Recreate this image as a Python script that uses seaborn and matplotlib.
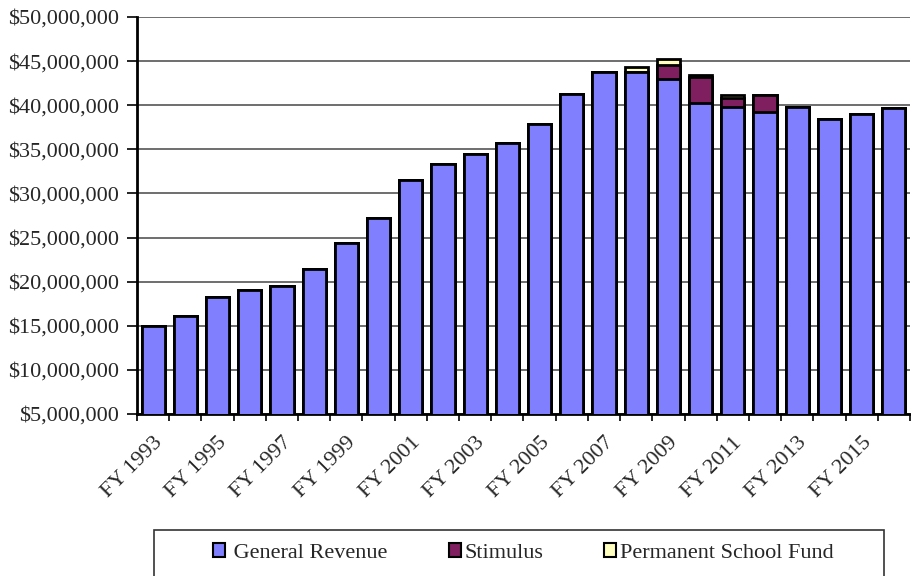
import matplotlib
matplotlib.use("Agg")
import matplotlib.pyplot as plt
import matplotlib.ticker as mticker
from matplotlib.patches import Rectangle, Patch
import seaborn as sns
import pandas as pd
import numpy as np

years = ["FY %d" % y for y in range(1993, 2017)]
general_revenue = [15.0, 16.1, 18.3, 19.05, 19.55, 21.45, 24.35, 27.25, 31.5, 33.3, 34.45,
                   35.7, 37.85, 41.25, 43.8, 43.8, 43.0, 40.2, 39.85, 39.2, 39.8, 38.45, 39.05, 39.65]
stimulus = [0, 0, 0, 0, 0, 0, 0, 0, 0, 0, 0, 0, 0, 0, 0, 0, 1.55, 2.95, 0.95, 2.0, 0, 0, 0, 0]
psf = [0, 0, 0, 0, 0, 0, 0, 0, 0, 0, 0, 0, 0, 0, 0, 0.55, 0.65, 0.25, 0.35, 0, 0, 0, 0, 0]

gr = np.array(general_revenue) * 1e6
st = np.array(stimulus) * 1e6
ps = np.array(psf) * 1e6
df = pd.DataFrame({"year": years, "gr": gr, "gs": gr + st, "tot": gr + st + ps})

sns.set_style("white")
plt.rcParams["font.family"] = ["Liberation Serif", "DejaVu Serif"]

fig = plt.figure(figsize=(9.12, 5.76), dpi=100)
ax = fig.add_axes([137/912, 1 - 414/576, (910 - 137)/912, (414 - 17)/576])

c_gr, c_st, c_ps = "#8080FF", "#7F1F5F", "#FFFFC0"
kw = dict(width=0.72, edgecolor="black", linewidth=2.0, ax=ax, zorder=3)
sns.barplot(data=df, x="year", y="tot", color=c_ps, saturation=1, **kw)
sns.barplot(data=df, x="year", y="gs", color=c_st, saturation=1, **kw)
sns.barplot(data=df, x="year", y="gr", color=c_gr, saturation=1, **kw)

ax.set_ylim(5e6, 50e6)
ax.set_xlim(-0.5, len(years) - 0.5)
ax.yaxis.set_major_locator(mticker.MultipleLocator(5e6))
ax.yaxis.set_major_formatter(mticker.FuncFormatter(lambda v, p: "${:,.0f}".format(v)))
ax.grid(axis="y", color="#555555", linewidth=1.2, zorder=0)
ax.set_axisbelow(True)
ax.set_xlabel("")
ax.set_ylabel("")

ax.set_xticks(np.arange(-0.5, len(years), 1.0))
ax.set_xticklabels([])
ax.set_xticks(np.arange(0, len(years), 2), minor=True)
ax.set_xticklabels(years[::2], minor=True, rotation=45, ha="right", rotation_mode="anchor", fontsize=16)
ax.tick_params(axis="x", which="major", direction="out", length=5, width=1.2, color="black", bottom=True)
ax.tick_params(axis="x", which="minor", length=0, pad=14)
ax.tick_params(axis="y", direction="out", length=7, width=1.2, color="black", left=True, labelsize=16, pad=6)

for s in ["top", "right"]:
    ax.spines[s].set_visible(False)
ax.spines["left"].set_color("black")
ax.spines["left"].set_linewidth(2)
ax.spines["bottom"].set_color("black")
ax.spines["bottom"].set_linewidth(2)

fig.patches.append(Rectangle((154/912, -0.01), (884 - 154)/912, (576 - 530)/576 + 0.01,
                             transform=fig.transFigure, fill=False, edgecolor="#333333", linewidth=1.2))
handles = [Patch(facecolor=c_gr, edgecolor="black", linewidth=1.5, label=" General Revenue"),
           Patch(facecolor=c_st, edgecolor="black", linewidth=1.5, label="Stimulus"),
           Patch(facecolor=c_ps, edgecolor="black", linewidth=1.5, label="Permanent School Fund")]
fig.legend(handles=handles, loc="center", bbox_to_anchor=(523/912, 1 - 553/576), ncol=3,
           frameon=False, fontsize=16, handlelength=0.55, handleheight=0.55, handletextpad=0.15,
           columnspacing=2.75, borderpad=0)

fig.savefig("out.png", dpi=100)
